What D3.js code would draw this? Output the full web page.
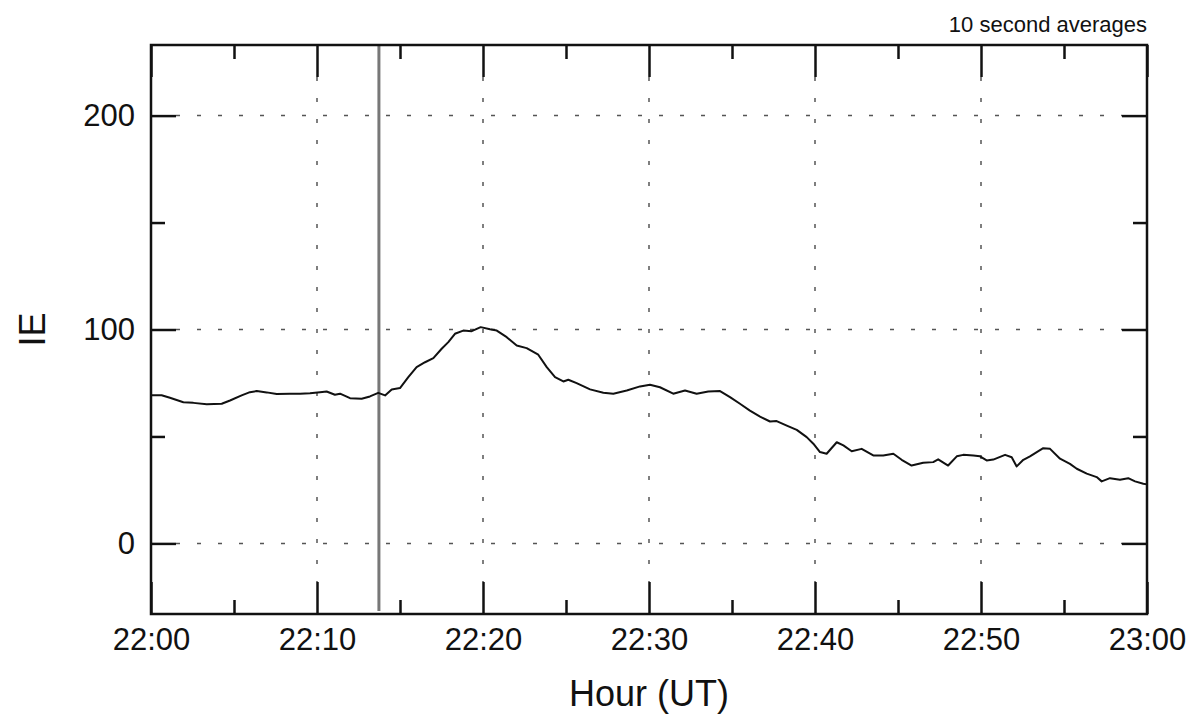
<!DOCTYPE html>
<html>
<head>
<meta charset="utf-8">
<script src="https://cdn.jsdelivr.net/npm/d3@7"></script>
<style>
  html, body { margin: 0; padding: 0; background: #fff; }
  svg { display: block; font-family: "Liberation Sans", Arial, Helvetica, sans-serif; }
</style>
</head>
<body>
<svg id="chart" width="1194" height="717"></svg>
<script>
// Minutes after 22:00 UT
const minutes = [
  0, 0.64, 1.14, 1.95, 2.55, 3.36, 4.26, 4.76, 5.46, 5.96, 6.37, 6.97, 7.57, 8.37, 8.98, 9.58,
  10.18, 10.58, 11.08, 11.39, 11.99, 12.69, 13.19, 13.69, 14.10, 14.50, 15.0, 15.5, 16.0, 16.51,
  17.01, 17.51, 17.91, 18.31, 18.81, 19.32, 19.86, 20.42, 20.83, 21.43, 22.03, 22.63, 23.33,
  23.84, 24.34, 24.84, 25.14, 25.64, 26.45, 27.25, 27.85, 28.66, 29.46, 30.06, 30.66, 31.46,
  32.17, 32.87, 33.57, 34.28, 34.88, 35.48, 36.08, 36.69, 37.29, 37.69, 38.30, 38.90, 39.50,
  39.90, 40.30, 40.70, 41.31, 41.71, 42.21, 42.81, 43.51, 44.11, 44.72, 45.22, 45.82, 46.52,
  47.12, 47.42, 48.02, 48.54, 48.93, 49.54, 49.94, 50.34, 50.74, 51.45, 51.85, 52.15, 52.55,
  52.95, 53.36, 53.75, 54.16, 54.76, 55.36, 55.77, 56.37, 56.97, 57.27, 57.77, 58.37, 58.87,
  59.28, 59.78, 60
];

// IE index, 10 second averages
const ieValues = [
  69.3, 69.3, 68.1, 66.0, 65.7, 65.1, 65.3, 66.8, 69.2, 70.7, 71.2, 70.6, 69.8, 70.0, 70.0, 70.2,
  70.7, 71.0, 69.5, 70.0, 67.9, 67.6, 68.7, 70.4, 69.2, 72.0, 72.6, 77.7, 82.4, 84.7,
  86.6, 91.0, 94.1, 98.0, 99.5, 99.2, 101.1, 100.1, 99.5, 96.4, 92.5, 91.3, 88.2,
  82.4, 77.7, 75.7, 76.5, 74.9, 72.0, 70.4, 70.0, 71.5, 73.4, 74.2, 73.0, 70.0,
  71.5, 70.0, 71.0, 71.2, 68.4, 65.3, 62.1, 59.3, 57.0, 57.2, 55.1, 53.1, 49.7,
  46.6, 42.7, 41.9, 47.3, 45.8, 43.1, 44.2, 41.1, 41.1, 41.9, 39.1, 36.4, 37.7,
  38.0, 39.3, 36.4, 40.7, 41.4, 41.1, 40.7, 38.8, 39.2, 41.4, 40.3, 36.0, 39.1,
  40.7, 42.7, 44.5, 44.2, 39.6, 37.2, 34.9, 32.6, 31.0, 29.0, 30.5, 29.8, 30.5,
  29.0, 27.9, 27.6
];

// Axis ticks
const xMajorTicks = [0, 10, 20, 30, 40, 50, 60];
const xMajorLabels = ["22:00", "22:10", "22:20", "22:30", "22:40", "22:50", "23:00"];
const xMinorTicks = [5, 15, 25, 35, 45, 55];
const yMajorTicks = [0, 100, 200];
const yMinorTicks = [50, 150];

// Event marker (minutes after 22:00)
const markerMinute = [13.73];

const svg = d3.select("#chart");
const plotLeft = 151, plotRight = 1147, plotTop = 45, plotBottom = 614;

const x = d3.scaleLinear().domain([0, 60]).range([plotLeft, plotRight]);
const y = d3.scaleLinear().domain([-33, 233]).range([plotBottom, plotTop]);

const fontTick = 31;

// Grid: horizontal at major y ticks, vertical at inner 10-minute ticks
const grid = svg.append("g")
  .attr("stroke", "#555")
  .attr("stroke-width", 1.5)
  .attr("stroke-dasharray", "4,17");
grid.selectAll("line.h").data(yMajorTicks).join("line")
  .attr("class", "h")
  .attr("x1", plotLeft + 25).attr("x2", plotRight - 25)
  .attr("y1", d => y(d)).attr("y2", d => y(d));
grid.selectAll("line.v").data(xMajorTicks.slice(1, -1)).join("line")
  .attr("class", "v")
  .attr("x1", d => x(d)).attr("x2", d => x(d))
  .attr("y1", plotTop + 32).attr("y2", plotBottom - 32);

// Bottom axis (ticks point inward)
svg.append("g").attr("transform", `translate(0,${plotBottom})`)
  .call(d3.axisBottom(x).tickValues(xMajorTicks)
    .tickFormat((d, i) => xMajorLabels[i])
    .tickSizeInner(-32).tickSizeOuter(0).tickPadding(14));
svg.append("g").attr("transform", `translate(0,${plotBottom})`)
  .call(d3.axisBottom(x).tickValues(xMinorTicks).tickFormat("")
    .tickSizeInner(-14).tickSizeOuter(0));

// Top axis
svg.append("g").attr("transform", `translate(0,${plotTop})`)
  .call(d3.axisTop(x).tickValues(xMajorTicks).tickFormat("")
    .tickSizeInner(-32).tickSizeOuter(0));
svg.append("g").attr("transform", `translate(0,${plotTop})`)
  .call(d3.axisTop(x).tickValues(xMinorTicks).tickFormat("")
    .tickSizeInner(-14).tickSizeOuter(0));

// Left axis
svg.append("g").attr("transform", `translate(${plotLeft},0)`)
  .call(d3.axisLeft(y).tickValues(yMajorTicks).tickFormat(d3.format("d"))
    .tickSizeInner(-25).tickSizeOuter(0).tickPadding(16));
svg.append("g").attr("transform", `translate(${plotLeft},0)`)
  .call(d3.axisLeft(y).tickValues(yMinorTicks).tickFormat("")
    .tickSizeInner(-14).tickSizeOuter(0));

// Right axis
svg.append("g").attr("transform", `translate(${plotRight},0)`)
  .call(d3.axisRight(y).tickValues(yMajorTicks).tickFormat("")
    .tickSizeInner(-25).tickSizeOuter(0));
svg.append("g").attr("transform", `translate(${plotRight},0)`)
  .call(d3.axisRight(y).tickValues(yMinorTicks).tickFormat("")
    .tickSizeInner(-14).tickSizeOuter(0));

// Axis styling
svg.selectAll(".domain").remove();
svg.selectAll(".tick line").attr("stroke", "#111").attr("stroke-width", 2.5);
svg.selectAll(".tick text")
  .attr("fill", "#111")
  .style("font-size", fontTick + "px")
  .style("font-family", '"Liberation Sans", Arial, Helvetica, sans-serif');

// Event marker line
svg.selectAll("line.marker").data(markerMinute).join("line")
  .attr("class", "marker")
  .attr("x1", d => x(d)).attr("x2", d => x(d))
  .attr("y1", plotTop).attr("y2", plotBottom - 3)
  .attr("stroke", "#777").attr("stroke-width", 3);

// Data line
const series = minutes.map((m, i) => [m, ieValues[i]]);
svg.append("path")
  .datum(series)
  .attr("fill", "none")
  .attr("stroke", "#111")
  .attr("stroke-width", 2)
  .attr("stroke-linejoin", "round")
  .attr("d", d3.line().x(d => x(d[0])).y(d => y(d[1])));

// Frame
svg.append("rect")
  .attr("x", plotLeft).attr("y", plotTop)
  .attr("width", plotRight - plotLeft).attr("height", plotBottom - plotTop)
  .attr("fill", "none").attr("stroke", "#111").attr("stroke-width", 2.5);

// Titles
svg.append("text")
  .attr("x", (plotLeft + plotRight) / 2).attr("y", 706)
  .attr("text-anchor", "middle")
  .style("font-size", "36px").attr("fill", "#111")
  .text("Hour (UT)");

svg.append("text")
  .attr("transform", `translate(45,${y(100)}) rotate(-90)`)
  .attr("text-anchor", "middle")
  .style("font-size", "36px").attr("fill", "#111")
  .text("IE");

svg.append("text")
  .attr("x", plotRight).attr("y", 32)
  .attr("text-anchor", "end")
  .style("font-size", "22px").attr("fill", "#111")
  .text("10 second averages");
</script>
</body>
</html>
